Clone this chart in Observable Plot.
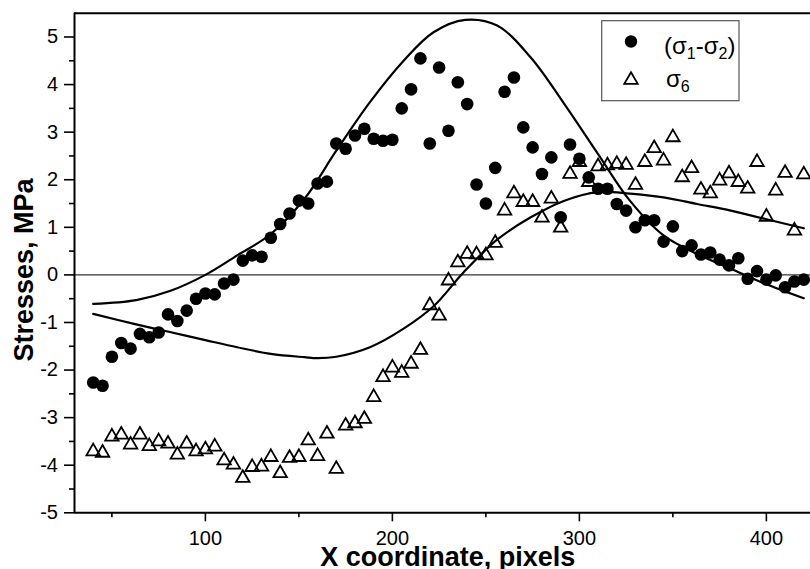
<!DOCTYPE html>
<html>
<head>
<meta charset="utf-8">
<script src="https://cdn.jsdelivr.net/npm/d3@7"></script>
<script src="https://cdn.jsdelivr.net/npm/@observablehq/plot@0.6"></script>
<style>
  html, body { margin: 0; padding: 0; background: #fff; }
  #chart svg { display: block; }
</style>
</head>
<body>
<div id="chart"></div>
<script>
// Sample x positions (pixels)
const xPos = [40,45,50,55,60,65,70,75,80,85,90,95,100,105,110,115,120,125,130,135,140,145,150,155,160,165,170,175,180,185,190,195,200,205,210,215,220,225,230,235,240,245,250,255,260,265,270,275,280,285,290,295,300,305,310,315,320,325,330,335,340,345,350,355,360,365,370,375,380,385,390,395,400,405,410,415,420];
// (σ1-σ2) measured, MPa
const sigmaDiff = [-2.26,-2.33,-1.72,-1.43,-1.55,-1.24,-1.31,-1.21,-0.83,-0.97,-0.75,-0.50,-0.39,-0.41,-0.18,-0.10,0.30,0.41,0.38,0.78,1.07,1.29,1.56,1.50,1.92,1.96,2.76,2.65,2.93,3.07,2.86,2.82,2.84,3.50,3.90,4.55,2.76,4.36,3.03,4.05,3.59,1.90,1.50,2.25,3.85,4.15,3.10,2.68,2.12,2.47,1.21,2.74,2.44,2.05,1.81,1.81,1.49,1.35,1.00,1.15,1.15,0.70,1.02,0.50,0.62,0.43,0.47,0.32,0.20,0.35,-0.08,0.08,-0.10,-0.01,-0.26,-0.14,-0.10];
// σ6 measured, MPa
const sigma6 = [-3.71,-3.74,-3.40,-3.36,-3.57,-3.36,-3.60,-3.50,-3.55,-3.78,-3.55,-3.71,-3.67,-3.61,-3.90,-3.99,-4.27,-4.04,-4.03,-3.83,-4.17,-3.85,-3.83,-3.48,-3.81,-3.34,-4.08,-3.17,-3.12,-3.03,-2.57,-2.15,-1.95,-2.06,-1.87,-1.58,-0.64,-0.86,-0.12,0.26,0.44,0.43,0.41,0.67,1.35,1.71,1.53,1.53,1.20,1.60,0.99,2.12,2.37,1.95,2.28,2.30,2.33,2.31,1.89,2.37,2.66,2.40,2.89,2.05,2.24,1.79,1.71,1.98,2.13,1.95,1.81,2.37,1.22,1.77,2.14,0.93,2.11];

// Theoretical curve for (σ1-σ2)
const curveAx = [40,63,81,100,117,135,153,170,188,206,222,239,256,274,292,310,327,345,363,381,399,420];
const curveAy = [-0.61,-0.53,-0.34,0.00,0.41,0.86,1.60,2.61,3.63,4.50,5.10,5.36,5.24,4.57,3.59,2.54,1.56,0.83,0.44,0.13,-0.18,-0.49];
// Theoretical curve for σ6
const curveBx = [40,63,81,100,117,135,153,160,170,188,206,222,238,256,274,292,310,327,345,363,381,399,420];
const curveBy = [-0.82,-1.04,-1.20,-1.37,-1.52,-1.66,-1.73,-1.75,-1.72,-1.52,-1.13,-0.66,0.05,0.74,1.21,1.56,1.74,1.71,1.63,1.49,1.35,1.18,0.98];

// Axis ticks
const xMajorTicks = [100,200,300,400];
const xMinorTicks = [50,150,250,350];
const yMajorTicks = [-5,-4,-3,-2,-1,0,1,2,3,4,5];
const yMinorTicks = [-4.5,-3.5,-2.5,-1.5,-0.5,0.5,1.5,2.5,3.5,4.5];

const xDomain = [30, 423.6];
const yDomain = [-5, 5.5];

const pts = xPos.map((x, i) => ({x, d: sigmaDiff[i], s6: sigma6[i]}));
const lineA = curveAx.map((x, i) => ({x, y: curveAy[i]}));
const lineB = curveBx.map((x, i) => ({x, y: curveBy[i]}));

const chart = Plot.plot({
  width: 810,
  height: 569,
  marginLeft: 74,
  marginRight: 0,
  marginTop: 12.7,
  marginBottom: 56.7,
  style: {fontFamily: "'Liberation Sans', Arial, sans-serif", fontSize: "20px", color: "#000", background: "#fff"},
  x: {domain: xDomain, label: null},
  y: {domain: yDomain, label: null},
  marks: [
    Plot.ruleY([0], {stroke: "#333", strokeWidth: 1.2}),
    Plot.line(lineA, {x: "x", y: "y", curve: "catmull-rom", stroke: "#000", strokeWidth: 2.2}),
    Plot.line(lineB, {x: "x", y: "y", curve: "catmull-rom", stroke: "#000", strokeWidth: 2.2}),
    Plot.dot(pts, {x: "x", y: "d", r: 6.3, fill: "#000", stroke: "none"}),
    Plot.dot(pts, {x: "x", y: "s6", symbol: "triangle", r: 5.0, fill: "none", stroke: "#000", strokeWidth: 1.8}),
    Plot.axisX({ticks: xMinorTicks, tickSize: 5, tickFormat: () => "", strokeWidth: 1.6, label: null}),
    Plot.axisX({ticks: xMajorTicks, tickSize: 9, tickPadding: 9, tickFormat: d => String(d), strokeWidth: 1.6, fontSize: 20, label: null}),
    Plot.axisY({ticks: yMinorTicks, tickSize: 5, tickFormat: () => "", strokeWidth: 1.6, label: null}),
    Plot.axisY({ticks: yMajorTicks, tickSize: 10, tickPadding: 6.5, tickFormat: d => String(d), strokeWidth: 1.6, fontSize: 20, label: null}),
    Plot.ruleY([yDomain[0]], {stroke: "#000", strokeWidth: 2}),
    Plot.ruleY([yDomain[1]], {stroke: "#000", strokeWidth: 2}),
    Plot.ruleX([xDomain[0]], {stroke: "#000", strokeWidth: 2})
  ]
});

document.getElementById("chart").appendChild(chart);

// Titles and legend
const svg = d3.select(chart);
const font = "'Liberation Sans', Arial, sans-serif";

svg.append("text")
  .attr("x", 447.7).attr("y", 566)
  .attr("text-anchor", "middle")
  .attr("font-family", font).attr("font-weight", "bold").attr("font-size", 27)
  .attr("fill", "#000")
  .text("X coordinate, pixels");

svg.append("text")
  .attr("transform", "translate(33,270) rotate(-90)")
  .attr("text-anchor", "middle")
  .attr("font-family", font).attr("font-weight", "bold").attr("font-size", 27)
  .attr("fill", "#000")
  .text("Stresses, MPa");

const lg = svg.append("g").attr("text-anchor", "start");
lg.append("rect")
  .attr("x", 601.7).attr("y", 20.7).attr("width", 137.3).attr("height", 80)
  .attr("fill", "#fff").attr("stroke", "#555").attr("stroke-width", 1.2);
lg.append("circle").attr("cx", 631).attr("cy", 41.5).attr("r", 6.2).attr("fill", "#000");
lg.append("path")
  .attr("transform", "translate(631,80)")
  .attr("d", d3.symbol(d3.symbolTriangle, Math.PI * 25)())
  .attr("fill", "none").attr("stroke", "#000").attr("stroke-width", 1.8);

const t1 = lg.append("text").attr("x", 664).attr("y", 53.5).attr("text-anchor", "start")
  .attr("font-family", font).attr("font-size", 24).attr("fill", "#000");
t1.append("tspan").text("(σ");
t1.append("tspan").attr("font-size", 16).attr("dy", 5).text("1");
t1.append("tspan").attr("dy", -5).text("-σ");
t1.append("tspan").attr("font-size", 16).attr("dy", 5).text("2");
t1.append("tspan").attr("dy", -5).text(")");

const t2 = lg.append("text").attr("x", 666).attr("y", 87).attr("text-anchor", "start")
  .attr("font-family", font).attr("font-size", 24).attr("fill", "#000");
t2.append("tspan").text("σ");
t2.append("tspan").attr("font-size", 16).attr("dy", 5).text("6");
</script>
</body>
</html>
